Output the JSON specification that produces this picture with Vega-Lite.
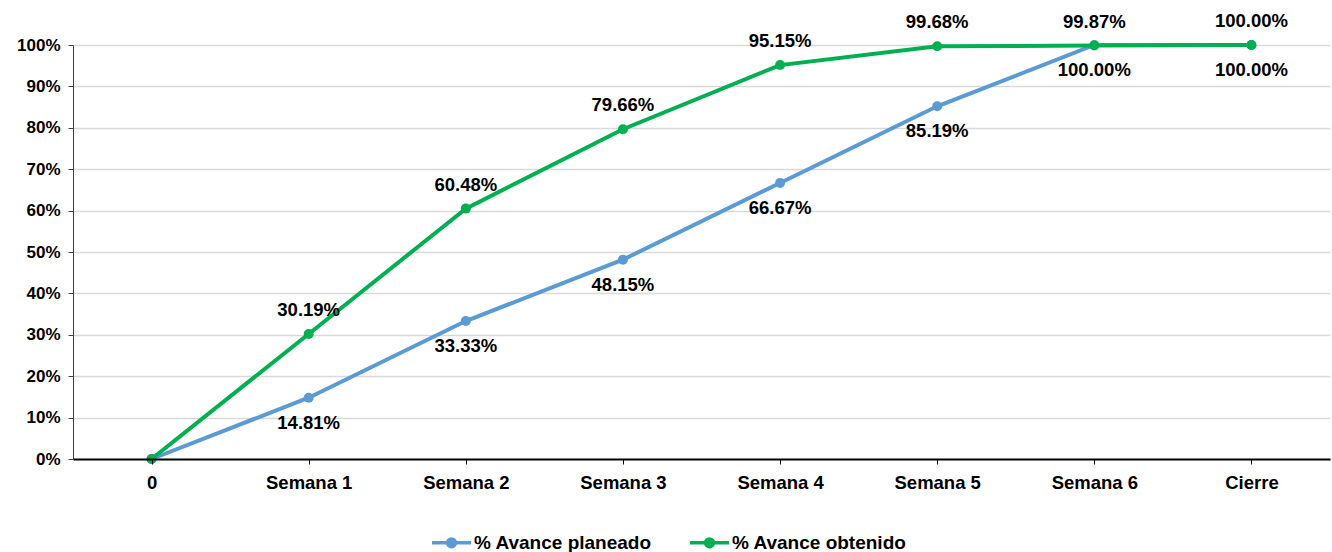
{
  "$schema": "https://vega.github.io/schema/vega-lite/v6.json",
  "width": 1257,
  "height": 414,
  "autosize": {"type": "none"},
  "padding": {"left": 73, "top": 45, "right": 2, "bottom": 93},
  "background": "white",
  "config": {
    "font": "Liberation Sans",
    "view": {"stroke": null}
  },
  "data": {
    "values": [
      {"semana": "0", "serie": "% Avance planeado", "valor": 0},
      {"semana": "Semana 1", "serie": "% Avance planeado", "valor": 14.81},
      {"semana": "Semana 2", "serie": "% Avance planeado", "valor": 33.33},
      {"semana": "Semana 3", "serie": "% Avance planeado", "valor": 48.15},
      {"semana": "Semana 4", "serie": "% Avance planeado", "valor": 66.67},
      {"semana": "Semana 5", "serie": "% Avance planeado", "valor": 85.19},
      {"semana": "Semana 6", "serie": "% Avance planeado", "valor": 100},
      {"semana": "Cierre", "serie": "% Avance planeado", "valor": 100},
      {"semana": "0", "serie": "% Avance obtenido", "valor": 0},
      {"semana": "Semana 1", "serie": "% Avance obtenido", "valor": 30.19},
      {"semana": "Semana 2", "serie": "% Avance obtenido", "valor": 60.48},
      {"semana": "Semana 3", "serie": "% Avance obtenido", "valor": 79.66},
      {"semana": "Semana 4", "serie": "% Avance obtenido", "valor": 95.15},
      {"semana": "Semana 5", "serie": "% Avance obtenido", "valor": 99.68},
      {"semana": "Semana 6", "serie": "% Avance obtenido", "valor": 99.87},
      {"semana": "Cierre", "serie": "% Avance obtenido", "valor": 100}
    ]
  },
  "encoding": {
    "x": {
      "field": "semana",
      "type": "nominal",
      "sort": null,
      "scale": {"paddingInner": 0, "paddingOuter": 0, "align": 0.5},
      "axis": {
        "title": null,
        "labelAngle": 0,
        "labelFont": "Liberation Sans",
        "labelFontSize": 18.5,
        "labelFontWeight": "bold",
        "labelColor": "#000000",
        "labelPadding": 9,
        "domainColor": "#000000",
        "domainWidth": 2,
        "tickColor": "#000000",
        "tickSize": 5,
        "tickWidth": 1,
        "grid": false,
        "zindex": 1
      }
    },
    "y": {
      "field": "valor",
      "type": "quantitative",
      "scale": {"domain": [0, 100], "nice": false},
      "axis": {
        "title": null,
        "values": [0, 10, 20, 30, 40, 50, 60, 70, 80, 90, 100],
        "labelExpr": "datum.value + '%'",
        "labelFont": "Liberation Sans",
        "labelFontSize": 17,
        "labelFontWeight": "bold",
        "labelColor": "#000000",
        "labelPadding": 8,
        "domainColor": "#404040",
        "domainWidth": 1,
        "tickColor": "#404040",
        "tickSize": 5,
        "grid": true,
        "gridColor": "#D9D9D9",
        "gridWidth": 1.5
      }
    },
    "color": {
      "field": "serie",
      "type": "nominal",
      "sort": ["% Avance planeado", "% Avance obtenido"],
      "scale": {
        "domain": ["% Avance planeado", "% Avance obtenido"],
        "range": ["#5B9BD5", "#00B050"]
      },
      "legend": {
        "title": null,
        "orient": "none",
        "direction": "horizontal",
        "legendX": 357,
        "legendY": 476,
        "symbolType": "M-1,0H1M-0.2,0A0.2,0.2 0 1,0 0.2,0A0.2,0.2 0 1,0 -0.2,0Z",
        "symbolSize": 1520,
        "symbolStrokeWidth": 3.5,
        "labelFont": "Liberation Sans",
        "labelFontSize": 19,
        "labelFontWeight": "bold",
        "labelColor": "#000000",
        "labelOffset": 1,
        "labelLimit": 400,
        "columnPadding": 31,
        "encode": {
          "symbols": {
            "update": {
              "fill": {"scale": "color", "field": "value"},
              "stroke": {"scale": "color", "field": "value"},
              "opacity": {"value": 1}
            }
          }
        }
      }
    }
  },
  "layer": [
    {
      "mark": {"type": "line", "strokeWidth": 4},
      "encoding": {"order": {"field": "serie", "sort": "descending"}}
    },
    {
      "mark": {"type": "point", "filled": true, "size": 100, "opacity": 1}
    },
    {
      "transform": [
        {"filter": "datum.semana !== '0' && datum.serie === '% Avance planeado'"},
        {"calculate": "format(datum.valor, '.2f') + '%'", "as": "etiqueta"}
      ],
      "mark": {
        "type": "text",
        "font": "Liberation Sans",
        "fontSize": 18.5,
        "fontWeight": "bold",
        "baseline": "middle",
        "dy": 25
      },
      "encoding": {
        "text": {"field": "etiqueta"},
        "color": {"value": "#000000"}
      }
    },
    {
      "transform": [
        {"filter": "datum.semana !== '0' && datum.serie === '% Avance obtenido'"},
        {"calculate": "format(datum.valor, '.2f') + '%'", "as": "etiqueta"}
      ],
      "mark": {
        "type": "text",
        "font": "Liberation Sans",
        "fontSize": 18.5,
        "fontWeight": "bold",
        "baseline": "middle",
        "dy": -24
      },
      "encoding": {
        "text": {"field": "etiqueta"},
        "color": {"value": "#000000"}
      }
    }
  ]
}
